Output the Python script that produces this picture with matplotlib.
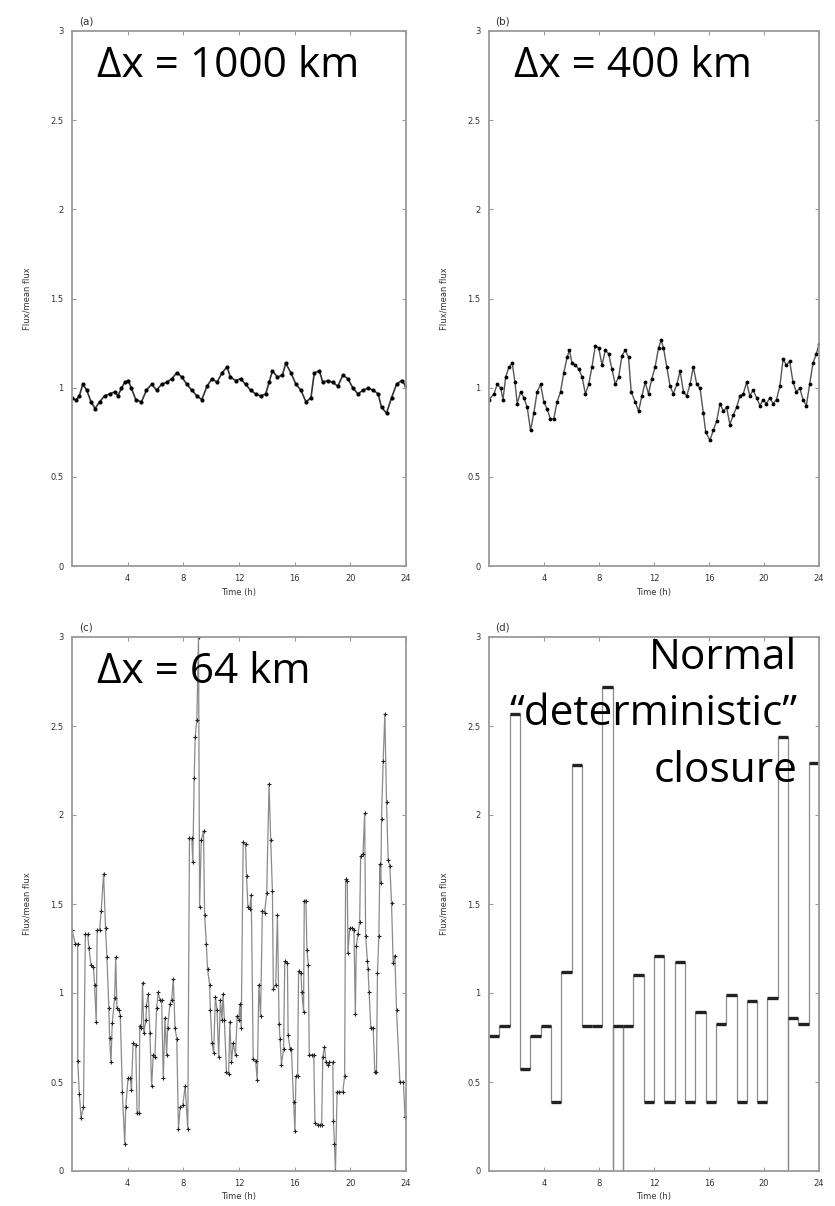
import matplotlib
matplotlib.use("Agg")
import matplotlib.pyplot as plt
import numpy as np

# ---------------- data ----------------
# (a) dx = 1000 km
t_a = [0.00, 0.29, 0.53, 0.77, 1.06, 1.37, 1.66, 1.98, 2.34, 2.70, 3.06, 3.30, 3.55, 3.79,
       4.03, 4.27, 4.58, 4.99, 5.35, 5.72, 6.08, 6.44, 6.80, 7.16, 7.53, 7.89, 8.25, 8.61,
       8.97, 9.33, 9.70, 10.06, 10.42, 10.78, 11.14, 11.38, 11.75, 12.11, 12.47, 12.83,
       13.19, 13.56, 13.92, 14.16, 14.40, 14.76, 15.12, 15.36, 15.73, 16.09, 16.45, 16.81,
       17.17, 17.41, 17.78, 18.02, 18.38, 18.74, 19.10, 19.46, 19.83, 20.19, 20.55, 20.91,
       21.27, 21.64, 22.00, 22.24, 22.60, 22.96, 23.32, 23.69, 24.00]
f_a = [0.943, 0.930, 0.954, 1.019, 0.986, 0.920, 0.883, 0.920, 0.954, 0.965, 0.976, 0.954,
       0.997, 1.030, 1.040, 0.997, 0.933, 0.920, 0.986, 1.019, 0.986, 1.019, 1.030, 1.050,
       1.083, 1.060, 1.019, 0.986, 0.954, 0.933, 1.008, 1.050, 1.030, 1.083, 1.116, 1.060,
       1.040, 1.050, 1.019, 0.986, 0.965, 0.954, 0.965, 1.030, 1.094, 1.060, 1.070, 1.137,
       1.083, 1.019, 0.986, 0.920, 0.943, 1.083, 1.094, 1.030, 1.040, 1.030, 1.008, 1.070,
       1.050, 0.997, 0.965, 0.986, 0.997, 0.986, 0.965, 0.890, 0.857, 0.943, 1.019, 1.040,
       1.008]

# (b) dx = 400 km
t_b = [0.00, 0.36, 0.60, 0.85, 1.02, 1.21, 1.45, 1.69, 1.89, 2.05, 2.30, 2.54, 2.78, 3.02,
       3.26, 3.50, 3.75, 3.99, 4.23, 4.47, 4.71, 4.95, 5.20, 5.44, 5.68, 5.85, 6.04, 6.28,
       6.53, 6.77, 7.01, 7.25, 7.49, 7.73, 7.98, 8.22, 8.46, 8.70, 8.94, 9.18, 9.43, 9.67,
       9.91, 10.15, 10.34, 10.63, 10.88, 11.12, 11.36, 11.60, 11.84, 12.08, 12.33, 12.52,
       12.69, 12.93, 13.17, 13.41, 13.66, 13.90, 14.14, 14.38, 14.62, 14.86, 15.11, 15.35,
       15.59, 15.76, 16.07, 16.31, 16.56, 16.80, 17.04, 17.28, 17.52, 17.76, 18.01, 18.25,
       18.49, 18.73, 18.97, 19.21, 19.46, 19.70, 19.94, 20.18, 20.42, 20.66, 20.91, 21.15,
       21.39, 21.63, 21.87, 22.11, 22.36, 22.60, 22.84, 23.08, 23.32, 23.56, 23.81, 24.00]
f_b = [0.933, 0.965, 1.019, 0.997, 0.933, 1.060, 1.116, 1.137, 1.030, 0.911, 0.976, 0.943,
       0.890, 0.760, 0.857, 0.976, 1.019, 0.920, 0.879, 0.825, 0.825, 0.920, 0.976, 1.083,
       1.170, 1.210, 1.137, 1.126, 1.105, 1.060, 0.965, 1.019, 1.116, 1.234, 1.223, 1.126,
       1.210, 1.190, 1.105, 1.019, 1.060, 1.180, 1.210, 1.170, 0.976, 0.920, 0.868, 0.954,
       1.030, 0.965, 1.050, 1.116, 1.223, 1.266, 1.223, 1.116, 1.008, 0.965, 1.019, 1.094,
       0.976, 0.954, 1.019, 1.116, 1.019, 0.997, 0.857, 0.750, 0.706, 0.760, 0.814, 0.911,
       0.868, 0.890, 0.793, 0.846, 0.890, 0.954, 0.965, 1.030, 0.954, 0.986, 0.943, 0.900,
       0.933, 0.911, 0.943, 0.911, 0.933, 1.008, 1.159, 1.126, 1.148, 1.030, 0.976, 0.997,
       0.933, 0.900, 1.019, 1.137, 1.190, 1.245]

# (c) dx = 64 km
t_c = [0.00, 0.24, 0.41, 0.41, 0.53, 0.65, 0.82, 0.96, 1.13, 1.21, 1.37, 1.54, 1.62, 1.74,
       1.81, 1.98, 2.10, 2.27, 2.41, 2.51, 2.65, 2.70, 2.80, 2.89, 3.06, 3.14, 3.23, 3.38,
       3.47, 3.62, 3.79, 3.86, 4.03, 4.20, 4.27, 4.39, 4.58, 4.68, 4.82, 4.87, 4.99, 5.07,
       5.16, 5.31, 5.35, 5.48, 5.60, 5.72, 5.84, 5.96, 6.08, 6.20, 6.32, 6.44, 6.56, 6.68,
       6.80, 6.87, 7.04, 7.16, 7.28, 7.40, 7.53, 7.65, 7.77, 7.96, 8.13, 8.32, 8.44, 8.61,
       8.68, 8.78, 8.85, 8.97, 9.09, 9.17, 9.29, 9.45, 9.53, 9.65, 9.74, 9.89, 9.94, 10.06,
       10.18, 10.30, 10.42, 10.54, 10.66, 10.78, 10.85, 10.95, 11.10, 11.26, 11.34, 11.46,
       11.58, 11.75, 11.87, 11.99, 12.06, 12.16, 12.30, 12.47, 12.54, 12.64, 12.78, 12.88,
       13.02, 13.19, 13.31, 13.43, 13.55, 13.68, 13.84, 13.99, 14.16, 14.28, 14.40, 14.47,
       14.64, 14.76, 14.88, 14.95, 15.05, 15.20, 15.29, 15.48, 15.53, 15.68, 15.77, 15.92,
       16.02, 16.09, 16.21, 16.28, 16.45, 16.52, 16.64, 16.69, 16.81, 16.88, 16.98, 17.05,
       17.22, 17.37, 17.46, 17.66, 17.85, 17.94, 18.02, 18.14, 18.26, 18.38, 18.50, 18.74,
       18.79, 18.86, 18.93, 19.05, 19.22, 19.46, 19.59, 19.66, 19.78, 19.83, 19.95, 20.12,
       20.26, 20.36, 20.43, 20.55, 20.67, 20.74, 20.91, 21.03, 21.10, 21.23, 21.27, 21.35,
       21.47, 21.64, 21.76, 21.88, 21.95, 22.05, 22.12, 22.19, 22.24, 22.36, 22.48, 22.60,
       22.72, 22.84, 22.96, 23.08, 23.20, 23.32, 23.56, 23.81, 23.93, 24.00]
f_c = [1.353, 1.277, 1.277, 0.620, 0.430, 0.300, 0.357, 1.330, 1.330, 1.255, 1.156, 1.145,
       1.047, 0.839, 1.353, 1.353, 1.463, 1.670, 1.363, 1.200, 0.915, 0.750, 0.610, 0.830,
       0.970, 1.200, 0.915, 0.904, 0.871, 0.445, 0.150, 0.357, 0.520, 0.520, 0.455, 0.718,
       0.707, 0.324, 0.324, 0.817, 0.806, 1.058, 0.773, 0.850, 0.926, 0.992, 0.773, 0.477,
       0.653, 0.642, 0.915, 1.003, 0.959, 0.959, 0.520, 0.860, 0.653, 0.806, 0.937, 0.959,
       1.080, 0.806, 0.740, 0.236, 0.357, 0.368, 0.477, 0.236, 1.868, 1.868, 1.736, 2.207,
       2.437, 2.536, 3.000, 1.485, 1.857, 1.910, 1.440, 1.277, 1.134, 1.047, 0.904, 0.718,
       0.663, 0.980, 0.904, 0.642, 0.959, 0.850, 0.992, 0.850, 0.554, 0.543, 0.839, 0.610,
       0.718, 0.653, 0.871, 0.850, 0.937, 0.806, 1.846, 1.835, 1.660, 1.485, 1.474, 1.550,
       0.630, 0.620, 0.510, 1.047, 0.871, 1.463, 1.452, 1.560, 2.174, 1.857, 1.572, 1.025,
       1.047, 1.440, 0.828, 0.740, 0.598, 0.685, 1.178, 1.167, 0.762, 0.685, 0.685, 0.390,
       0.225, 0.532, 0.532, 1.123, 1.112, 1.003, 0.893, 1.519, 1.519, 1.244, 1.156, 0.653,
       0.653, 0.653, 0.270, 0.260, 0.260, 0.260, 0.642, 0.696, 0.610, 0.598, 0.610, 0.610,
       0.280, 0.150, 0.000, 0.445, 0.445, 0.445, 0.532, 1.638, 1.627, 1.222, 1.364, 1.364,
       1.353, 0.882, 1.266, 1.330, 1.397, 1.769, 1.780, 2.010, 1.320, 1.178, 1.134, 1.003,
       0.806, 0.806, 0.554, 0.554, 1.112, 1.320, 1.725, 1.616, 1.977, 2.306, 2.568, 2.075,
       1.747, 1.714, 1.506, 1.167, 1.210, 0.904, 0.499, 0.499, 0.302, 0.302]

# (d) deterministic closure: 45-minute closure steps
seg_start_d = [0.0, 0.75, 1.5, 2.25, 3.0, 3.75, 4.5, 5.25, 6.0, 6.75, 7.5, 8.25, 9.0, 9.75,
               10.5, 11.25, 12.0, 12.75, 13.5, 14.25, 15.0, 15.75, 16.5, 17.25, 18.0, 18.75,
               19.5, 20.25, 21.0, 21.75, 22.5, 23.25]
seg_val_d = [0.76, 0.815, 2.57, 0.575, 0.76, 0.815, 0.389, 1.12, 2.28, 0.815, 0.815, 2.72,
             0.815, 0.815, 1.10, 0.389, 1.21, 0.389, 1.175, 0.389, 0.896, 0.389, 0.826, 0.99,
             0.389, 0.957, 0.389, 0.974, 2.44, 0.859, 0.826, 2.29]
zero_times_d = [9.0, 9.75, 21.75]
seg_len_d = 0.75

panel_letters = ["(a)", "(b)", "(c)", "(d)"]
x_ticks = [4, 8, 12, 16, 20, 24]
y_ticks = [0, 0.5, 1, 1.5, 2, 2.5, 3]
y_ticklabels = ["0", "0.5", "1", "1.5", "2", "2.5", "3"]

# ---------------- figure ----------------
W, H = 835, 1206
fig = plt.figure(figsize=(W / 100, H / 100), dpi=100)

def rect(l, t, r, b):
    return [l / W, 1 - b / H, (r - l) / W, (b - t) / H]

rects = [rect(72, 31, 406, 566), rect(489, 31, 819, 566),
         rect(72, 637, 406, 1171), rect(489, 637, 819, 1171)]
axes = [fig.add_axes(r) for r in rects]

big_font = ["Open Sans", "DejaVu Sans"]
frame_col = "#9a9a9a"

for ax, letter in zip(axes, panel_letters):
    ax.set_xlim(0, 24)
    ax.set_ylim(0, 3)
    ax.set_xticks(x_ticks)
    ax.set_yticks(y_ticks)
    ax.set_yticklabels(y_ticklabels)
    ax.tick_params(direction="in", length=3, width=0.8, colors=frame_col,
                   labelcolor="#333333", labelsize=6, top=True, right=True, pad=6)
    for s in ax.spines.values():
        s.set_color(frame_col)
        s.set_linewidth(1.3)
    ax.set_xlabel("Time (h)", fontsize=6, color="#333333", labelpad=3)
    ax.set_ylabel("Flux/mean flux", fontsize=6, color="#333333", labelpad=14)
    ax.text(0.02, 1.008, letter, transform=ax.transAxes, fontsize=7.5,
            color="#333333", ha="left", va="bottom")

# (a)
axes[0].plot(t_a, f_a, color="#333333", lw=1.2, marker=".", ms=4, mfc="black",
             mec="black")
# (b)
axes[1].plot(t_b, f_b, color="#555555", lw=1.0, marker=".", ms=3.5, mfc="black",
             mec="black")
# (c)
axes[2].plot(t_c, f_c, color="#8a8a8a", lw=0.9, marker="+", ms=3, mec="#222222",
             mew=0.8)

# (d) step path built from the closure segments
xs, ys = [], []
for s, v in zip(seg_start_d, seg_val_d):
    if any(abs(s - z) < 1e-6 for z in zero_times_d):
        xs += [s, s]
        ys += [ys[-1] if ys else v, 0.0]
    xs += [s, s + seg_len_d]
    ys += [v, v]
axes[3].plot(xs, ys, color="#8a8a8a", lw=0.9)
axes[3].hlines(seg_val_d, seg_start_d, [s + seg_len_d for s in seg_start_d],
               color="#222222", lw=2.4)

# big annotation text
big = 30.5
axes[0].text(0.075, 0.935, "\u0394x = 1000 km", transform=axes[0].transAxes,
             fontsize=big, family=big_font, ha="left", va="center")
axes[1].text(0.075, 0.935, "\u0394x = 400 km", transform=axes[1].transAxes,
             fontsize=big, family=big_font, ha="left", va="center")
axes[2].text(0.075, 0.935, "\u0394x = 64 km", transform=axes[2].transAxes,
             fontsize=big, family=big_font, ha="left", va="center")
axes[3].text(0.935, 0.855, "Normal\n\u201cdeterministic\u201d\nclosure",
             transform=axes[3].transAxes, fontsize=big, family=big_font,
             ha="right", va="center", linespacing=1.45)

fig.savefig("out.png", dpi=100)
